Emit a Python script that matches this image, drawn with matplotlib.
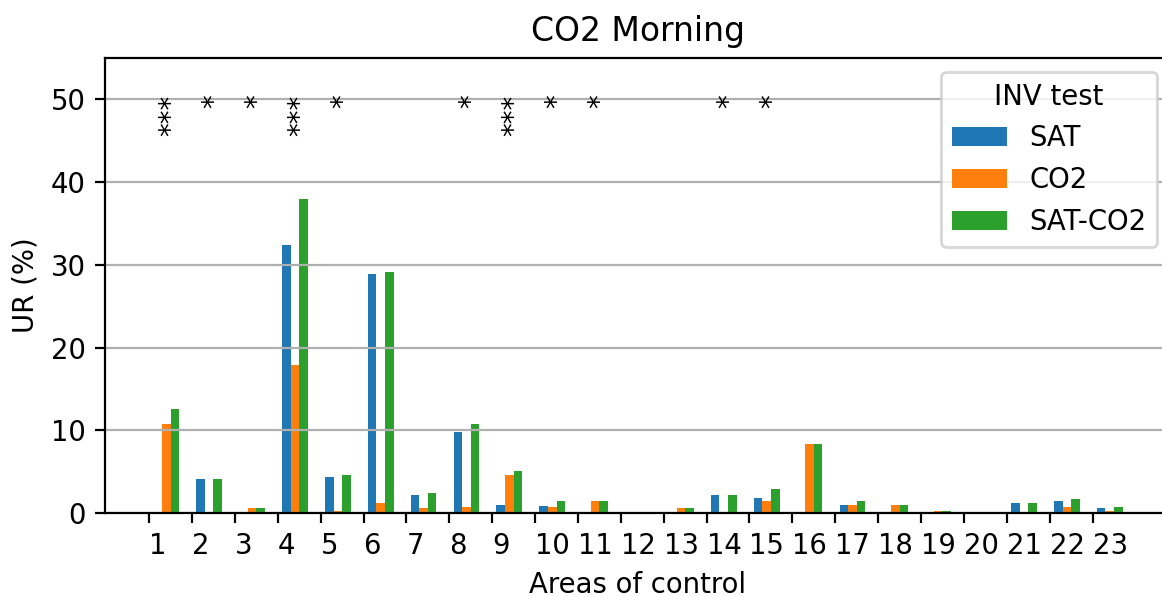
import numpy as np
import matplotlib
matplotlib.use('Agg')
import matplotlib.pyplot as plt

areas = list(range(1, 24))
sat = [0, 4.1, 0, 32.4, 4.4, 28.9, 2.2, 9.8, 1.0, 0.8, 0, 0, 0, 2.2, 1.8, 0, 1.0, 0, 0, 0, 1.25, 1.5, 0.55]
co2 = [10.8, 0, 0.55, 17.95, 0.3, 1.25, 0.55, 0.75, 4.6, 0.75, 1.5, 0, 0.55, 0, 1.5, 8.4, 1.0, 1.0, 0.3, 0, 0, 0.75, 0.3]
sat_co2 = [12.6, 4.1, 0.55, 37.9, 4.6, 29.1, 2.45, 10.8, 5.1, 1.5, 1.5, 0, 0.55, 2.2, 2.95, 8.4, 1.5, 1.0, 0.3, 0, 1.25, 1.75, 0.75]
signif = ['***', '*', '*', '***', '*', '', '', '*', '***', '*', '*', '', '', '*', '*', '', '', '', '', '', '', '', '']

x = np.array(areas)
width = 0.2
dpi = 198

fig = plt.figure(figsize=(1162 / dpi, 597 / dpi), dpi=dpi)
ax = fig.add_axes([105 / 1162, 1 - 513 / 597, (1171 - 105) / 1162, (513 - 58) / 597])

ax.bar(x + width, sat, width, label='SAT')
ax.bar(x + 2 * width, co2, width, label='CO2')
ax.bar(x + 3 * width, sat_co2, width, label='SAT-CO2')

# significance marks above each area
for xi, s in zip(x, signif):
	if s:
		ax.text(xi + 2 * width + 0.12, 50.6, s, rotation=90, ha='center', va='top', fontsize=10)

ax.set_ylim(0, 55)
ax.set_xticks(x)
ax.set_xticklabels([str(a) for a in areas], ha='left')
ax.yaxis.grid(True)
ax.set_xlabel('Areas of control')
ax.set_ylabel('UR (%)')
ax.set_title('CO2 Morning')
ax.legend(title='INV test', loc='upper right')

fig.savefig('out.png', dpi=dpi)
